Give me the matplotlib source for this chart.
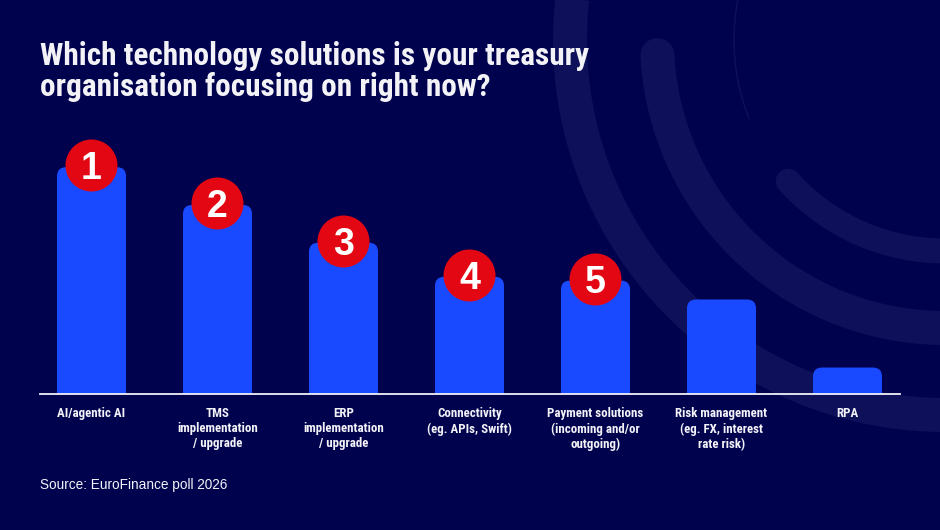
import numpy as np
import matplotlib
matplotlib.use("Agg")
import matplotlib.pyplot as plt
from matplotlib.patches import FancyBboxPatch

# ---- data ----
categories = [
    "AI/agentic AI",
    "TMS\nimplementation\n/ upgrade",
    "ERP\nimplementation\n/ upgrade",
    "Connectivity\n(eg. APIs, Swift)",
    "Payment solutions\n(incoming and/or\noutgoing)",
    "Risk management\n(eg. FX, interest\nrate risk)",
    "RPA",
]
values = [60, 50, 40, 31, 30, 25, 7]
ranks = ["1", "2", "3", "4", "5"]

title_lines = ["Which technology solutions is your treasury",
               "organisation focusing on right now?"]
source = "Source: EuroFinance poll 2026"

BG = "#01024e"
ARC = "#0f105a"
BAR = "#1a4aff"
RED = "#e30613"
WHITE = "#f2f2f7"
COND = ["Roboto Condensed", "DejaVu Sans"]

W, H = 940, 530
fig = plt.figure(figsize=(W / 100, H / 100), dpi=100, facecolor=BG)

# ---- background decoration (pixel coordinates) ----
bg = fig.add_axes([0, 0, 1, 1], zorder=-1)
bg.set_xlim(0, W)
bg.set_ylim(H, 0)
bg.axis("off")
bg.set_facecolor(BG)
cx, cy = 945, 40
px2pt = 0.72

def arc(R, t0, t1, lw_px, cap="round"):
    t = np.radians(np.linspace(t0, t1, 300))
    bg.plot(cx + R * np.cos(t), cy + R * np.sin(t), color=ARC,
            lw=lw_px * px2pt, solid_capstyle=cap)

arc(375, 30, 230, 34, cap="butt")
arc(288, 177, 40, 34)
arc(211, 138, 40, 25)
arc(211, 158, 200, 1.5, cap="butt")

# ---- main chart ----
left_px, right_px, base_px = 40, 900, 394
step_px = 126.0
c0_px = 91.5
ppu = 3.78  # pixels per value unit
ymax = 70
ax = fig.add_axes([left_px / W, (H - base_px) / H,
                   (right_px - left_px) / W, ymax * ppu / H])
ax.set_facecolor("none")
ax.set_xlim(-(c0_px - left_px) / step_px, (right_px - c0_px) / step_px)
ax.set_ylim(0, ymax)

x = np.arange(len(categories))
bw = 69 / step_px
bars = ax.bar(x, values, width=bw, color=BAR)
r_px = 9
aspect = step_px / ppu
for b in bars:
    bx, bwid, bh = b.get_x(), b.get_width(), b.get_height()
    b.remove()
    p = FancyBboxPatch((bx, -5), bwid, bh + 5,
                       boxstyle=f"round,pad=0,rounding_size={r_px / step_px}",
                       mutation_aspect=aspect, fc=BAR, ec="none", zorder=2)
    ax.add_patch(p)

# rank badges
for i, r in enumerate(ranks):
    ax.scatter(x[i], values[i] + 0.5, s=(52 * px2pt) ** 2, color=RED,
               zorder=4, clip_on=False, linewidths=0)
    ax.text(x[i], values[i] + 0.5, r, ha="center", va="center_baseline",
            color="white", fontsize=27, fontweight="bold",
            family="Liberation Sans", zorder=5)

for s in ["top", "right", "left"]:
    ax.spines[s].set_visible(False)
ax.spines["bottom"].set_color(WHITE)
ax.spines["bottom"].set_linewidth(1.3)
ax.spines["bottom"].set_zorder(6)
ax.set_yticks([])
ax.set_xticks(x)
ax.set_xticklabels(categories, color=WHITE, fontsize=9.3, fontweight="bold",
                   family=COND, linespacing=1.2, va="top")
ax.tick_params(axis="x", length=0, pad=9.5)

for k, (line, yb) in enumerate(zip(title_lines, [65, 96])):
    fig.text(40 / W, 1 - yb / H, line, ha="left", va="baseline", color=WHITE,
             fontsize=22.5, fontweight="bold", family=COND)
fig.text(40 / W, 1 - 489 / H, source, ha="left", va="baseline",
         color=WHITE, fontsize=9.8, family="Liberation Sans")

fig.savefig("out.png", dpi=100, facecolor=BG)
